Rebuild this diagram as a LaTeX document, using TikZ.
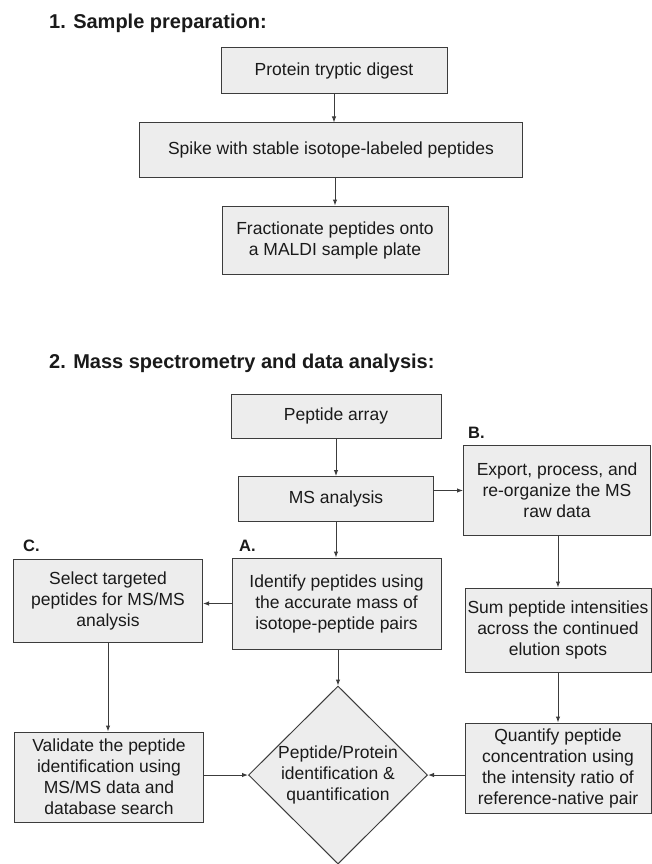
\documentclass[tikz,border=0pt]{standalone}
\usepackage{fontspec}
\setmainfont{Liberation Sans}
\usetikzlibrary{positioning,arrows.meta,shapes.geometric}
\definecolor{boxfill}{HTML}{EDEDED}
\definecolor{boxline}{HTML}{3C3C3C}
\definecolor{ink}{HTML}{1A1A1A}
\begin{document}
\begin{tikzpicture}[x=1pt,y=-1pt,
  stepbox/.style={draw=boxline,fill=boxfill,line width=1pt,align=center,inner sep=0pt,text=ink,font=\fontsize{17.5}{21}\selectfont},
  decide/.style={stepbox,diamond,minimum width=179pt,minimum height=176pt},
  heading/.style={anchor=west,inner sep=0pt,text=ink,font=\fontsize{20}{24}\selectfont\bfseries},
  tag/.style={anchor=west,inner sep=0pt,text=ink,font=\fontsize{16.5}{20}\selectfont\bfseries},
  arw/.style={draw=boxline,line width=1pt,-{Latex[length=6pt,width=4.5pt]}}]
  \useasboundingbox (0,0) rectangle (652,864);
  \fill[white] (0,0) rectangle (652,864);
  % sample preparation
  \node[heading] (t1) at (49,23) {1. Sample preparation:};
  \node[stepbox,minimum width=226pt,minimum height=46pt] (dig) at (334,71) {Protein tryptic digest};
  \node[stepbox,minimum width=383pt,minimum height=54pt] (spk) at (331,150) {Spike with stable isotope-labeled peptides};
  \node[stepbox,minimum width=226pt,minimum height=68pt] (frc) at (335,240) {Fractionate peptides onto\\a MALDI sample plate};
  \draw[arw] (dig.south) -- (dig.south |- spk.north);
  \draw[arw] (spk.south -| frc.north) -- (frc.north);
  % mass spectrometry and data analysis
  \node[heading] (t2) at (49,363) {2. Mass spectrometry and data analysis:};
  \node[stepbox,minimum width=210pt,minimum height=44pt] (pa) at (336,416) {Peptide array};
  \node[stepbox,minimum width=195pt,minimum height=45pt] (ms) at (336,499) {MS analysis};
  \node[stepbox,minimum width=187pt,minimum height=90pt] (exp) at (557,490.5) {Export, process, and\\re-organize the MS\\raw data};
  \node[stepbox,minimum width=189pt,minimum height=83pt] (sel) at (108,601) {Select targeted\\peptides for MS/MS\\analysis};
  \node[stepbox,minimum width=209pt,minimum height=91pt] (idf) at (336.5,603.5) {Identify peptides using\\the accurate mass of\\isotope-peptide pairs};
  \node[stepbox,minimum width=186pt,minimum height=84pt] (sum) at (558,630) {Sum peptide intensities\\across the continued\\elution spots};
  \node[stepbox,minimum width=189pt,minimum height=90pt] (val) at (109,777) {Validate the peptide\\identification using\\MS/MS data and\\database search};
  \node[stepbox,minimum width=186pt,minimum height=90pt] (qnt) at (558,768) {Quantify peptide\\concentration using\\the intensity ratio of\\reference-native pair};
  \node[decide] (dia) at (338,775) {Peptide/Protein\\identification \&\\quantification};
  \node[tag] (lb) at (468,433) {B.};
  \node[tag] (lc) at (23,546) {C.};
  \node[tag] (la) at (239,546) {A.};
  \draw[arw] (pa.south) -- (pa.south |- ms.north);
  \draw[arw] (ms.south) -- (ms.south |- idf.north);
  \draw[arw] (ms.east |- exp.west) -- (exp.west);
  \draw[arw] (idf.west) -- (idf.west -| sel.east);
  \draw[arw] (idf.south -| dia.north) -- (dia.north);
  \draw[arw] (exp.south -| sum.north) -- (sum.north);
  \draw[arw] (sum.south) -- (sum.south |- qnt.north);
  \draw[arw] (sel.south) -- (sel.south |- val.north);
  \draw[arw] (val.east |- dia.west) -- (dia.west);
  \draw[arw] (qnt.west |- dia.east) -- (dia.east);
\end{tikzpicture}
\end{document}
